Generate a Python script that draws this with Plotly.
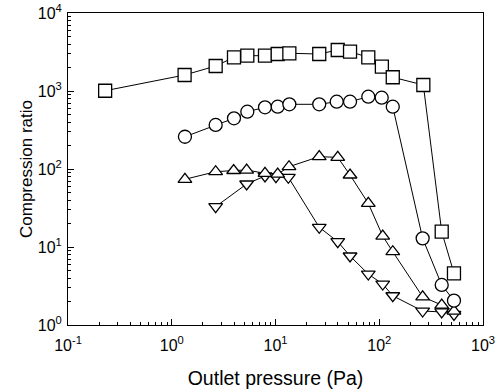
import plotly.graph_objects as go

# Data
sq_x = [0.228, 1.33, 2.65, 3.98, 5.35, 7.92, 10.5, 13.6, 26.4, 39.8, 52.3, 78.4, 106, 135, 266, 400, 525]
sq_y = [1008, 1603, 2092, 2704, 2836, 2836, 2980, 3045, 2980, 3357, 3190, 2704, 2050, 1500, 1194, 15.7, 4.6]

ci_x = [1.34, 2.65, 3.98, 5.35, 7.92, 10.5, 13.6, 26.4, 38.9, 52.3, 78.4, 105.6, 135, 262, 400, 525]
ci_y = [259, 367, 447, 543, 618, 629, 675, 675, 729, 729, 845, 820, 629, 12.9, 3.26, 2.05]

up_x = [1.34, 2.65, 3.95, 5.27, 7.92, 10.5, 13.5, 26.4, 39.8, 52.3, 78.4, 108, 135, 262, 400, 525]
up_y = [73.8, 92.3, 95.6, 97, 88, 86, 107, 144, 141, 83.8, 36.3, 13.8, 8.7, 2.3, 1.8, 1.51]

dn_x = [2.65, 5.27, 7.92, 10.1, 13.3, 26.4, 39.8, 52.3, 78.4, 108, 135, 262, 400, 525]
dn_y = [32.9, 64.2, 81.3, 79.7, 78.3, 17.9, 11.7, 7.67, 4.5, 3.35, 2.37, 1.51, 1.47, 1.37]

x_tickvals = [0.1, 1, 10, 100, 1000]
x_ticktext = ["10<sup>-1</sup>", "10<sup>0</sup>", "10<sup>1</sup>", "10<sup>2</sup>", "10<sup>3</sup>"]
y_tickvals = [1, 10, 100, 1000, 10000]
y_ticktext = ["10<sup>0</sup>", "10<sup>1</sup>", "10<sup>2</sup>", "10<sup>3</sup>", "10<sup>4</sup>"]

FONT = "Liberation Sans, Arial, sans-serif"

series = [
    (dn_x, dn_y, "triangle-down", 12),
    (up_x, up_y, "triangle-up", 12),
    (ci_x, ci_y, "circle", 13),
    (sq_x, sq_y, "square", 13),
]

fig = go.Figure()
for xs, ys, sym, sz in series:
    fig.add_trace(go.Scatter(
        x=xs, y=ys, mode="lines+markers",
        line=dict(color="black", width=1),
        marker=dict(symbol=sym, size=sz, color="white",
                    line=dict(color="black", width=1.3)),
        showlegend=False,
    ))

axis_common = dict(
    type="log", showline=True, linecolor="black", linewidth=1, mirror=True,
    ticks="inside", ticklen=6, tickcolor="black", tickwidth=1,
    showgrid=False, zeroline=False, automargin=False,
    minor=dict(ticks="inside", ticklen=3, tickcolor="black", dtick="D1", showgrid=False),
    tickfont=dict(family=FONT, size=16, color="black"),
)

fig.update_xaxes(**axis_common, range=[-1, 3], tickmode="array",
                 tickvals=x_tickvals, ticktext=x_ticktext, ticklabelstandoff=6,
                 title=dict(text="Outlet pressure (Pa)", standoff=18,
                            font=dict(family=FONT, size=19.5, color="black")))
fig.update_yaxes(**axis_common, range=[0, 4], tickmode="array",
                 tickvals=y_tickvals, ticktext=y_ticktext, ticklabelstandoff=2,
                 title=dict(text="Compression ratio", standoff=0,
                            font=dict(family=FONT, size=17, color="black")))

fig.update_layout(
    width=497, height=391,
    margin=dict(l=68, r=14, t=13, b=66),
    plot_bgcolor="white", paper_bgcolor="white",
    font=dict(family=FONT, color="black"),
)

fig.write_html("out.html", config={"displayModeBar": False},
               post_script="document.body.style.margin='0';document.body.style.overflow='hidden';")
